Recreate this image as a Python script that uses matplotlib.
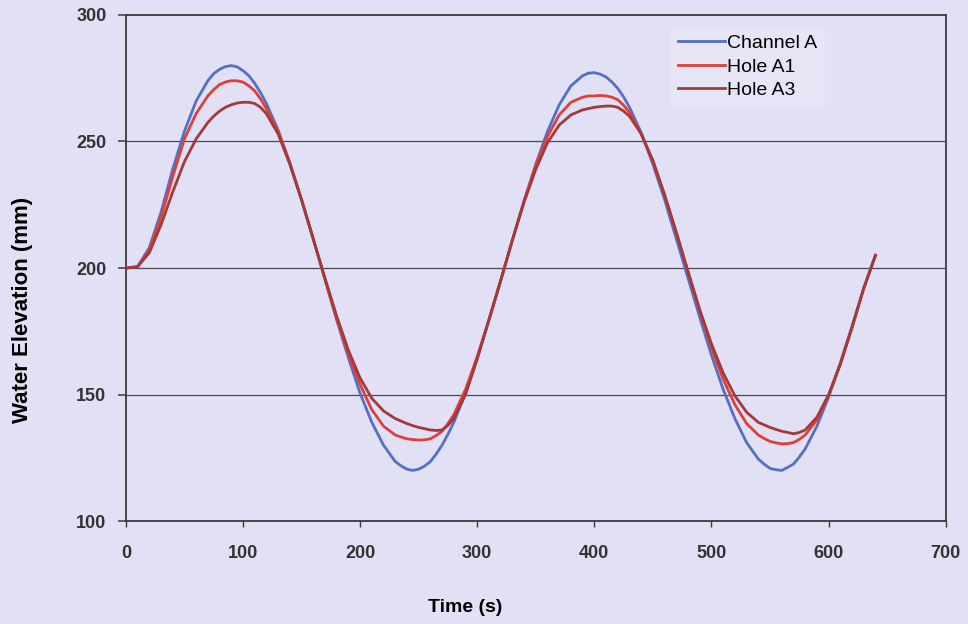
# Water elevation in channel and holes vs time
import matplotlib.pyplot as plt

plt.rcParams['font.family'] = ['Liberation Sans', 'DejaVu Sans']

# Data (10 s steps, 5 s near the crests and troughs)
time_s = [0, 10, 20, 30, 40, 50, 60, 70, 75, 80, 85, 90, 95, 100, 105, 110, 115,
          120, 130, 140, 150, 160, 170, 180, 190, 200, 210, 220, 230, 235, 240,
          245, 250, 255, 260, 265, 270, 275, 280, 290, 300, 310, 320, 330, 340,
          350, 360, 370, 380, 390, 395, 400, 405, 410, 415, 420, 425, 430, 440,
          450, 460, 470, 480, 490, 500, 510, 520, 530, 540, 545, 550, 555, 560,
          565, 570, 575, 580, 590, 600, 610, 620, 630, 640]

channel_a = [200, 200.5, 208, 222, 239, 254, 266, 274, 276.8, 278.5, 279.6, 280, 279.5, 278, 276, 273, 269.3,
             265, 254.5, 241.5, 227, 211.5, 195.5, 179.5, 164.5, 150.5, 139, 130, 123.5, 121.8, 120.5,
             120, 120.5, 121.7, 123.5, 126.5, 130, 134.3, 139, 150.5, 164.5, 179.5, 195, 211, 226.5,
             241, 254, 264.5, 272, 276, 277, 277.2, 276.6, 275.5, 273.5, 271, 267.6, 263.5, 253.5,
             241, 227, 211.5, 196, 180.5, 165.5, 152, 140.5, 131, 124.5, 122.5, 120.8, 120.3, 120,
             121.2, 122.5, 125.3, 128.5, 137.5, 149, 162.5, 177, 192, 205]

hole_a1 = [200, 200.5, 207, 220, 236, 251, 261, 268, 270.5, 272.5, 273.5, 274, 274, 273.5, 272, 270, 266.8,
           263, 254, 241.5, 227, 211.5, 195.5, 180, 166, 154, 144, 137.5, 134, 133.2, 132.5,
           132.2, 132, 132.1, 132.5, 133.8, 135.5, 138.5, 142, 152, 165, 179.5, 195, 211, 226.5,
           240.5, 252, 260.5, 265.5, 267.5, 268, 268, 268.2, 268, 267.5, 266.5, 264.3, 261.5, 253,
           242, 228.5, 214, 198.5, 183, 168.5, 156, 146, 138.5, 134, 132.6, 131.5, 130.9, 130.5,
           130.6, 131, 132.3, 134, 140, 149.5, 162, 176.5, 192, 205]

hole_a3 = [200, 200.5, 206, 217, 230, 242, 251, 257.5, 260, 262, 263.5, 264.5, 265.2, 265.5, 265.5, 265, 263.5,
           261, 253, 241, 227, 211.5, 196, 181, 167.5, 156.5, 148.5, 143.5, 140.5, 139.5, 138.5,
           137.7, 137, 136.5, 136, 135.8, 136, 137.8, 140.5, 150, 164, 179.5, 195, 211, 226,
           239, 249.5, 256.5, 260.5, 262.5, 263, 263.5, 263.8, 264, 264, 263.5, 262, 260, 253,
           242.5, 229, 214, 198.5, 183.5, 170, 158.5, 149.5, 143, 139, 138, 137, 136.2, 135.5,
           135, 134.5, 135, 136, 141, 150, 162, 176.5, 192, 205]

y_ticks = [100, 150, 200, 250, 300]
x_ticks = [0, 100, 200, 300, 400, 500, 600, 700]

bg = '#E2E0F4'
fig = plt.figure(figsize=(9.68, 6.24), dpi=100, facecolor=bg)
ax = fig.add_axes([0.130, 0.165, 0.847, 0.811], facecolor=bg)

ax.plot(time_s, channel_a, color='#5470C0', lw=2.0, label='Channel A', zorder=3)
ax.plot(time_s, hole_a1, color='#DE3F3A', lw=2.0, label='Hole A1', zorder=4)
ax.plot(time_s, hole_a3, color='#A13A3C', lw=2.0, label='Hole A3', zorder=5)

ax.set_xlim(0, 700)
ax.set_ylim(100, 300)
ax.set_xticks(x_ticks)
ax.set_yticks(y_ticks)
for yv in [150, 200, 250]:
    ax.axhline(yv, color='#4A4A50', lw=0.9, zorder=1)

for s in ax.spines.values():
    s.set_color('#3A3A3A')
    s.set_linewidth(1.3)

ax.tick_params(axis='y', direction='out', length=6, width=1.1, color='#3A3A3A',
               pad=8, labelsize=13, labelcolor='#333333')
ax.tick_params(axis='x', direction='out', length=4, width=1.0, color='#3A3A3A',
               pad=13, labelsize=13, labelcolor='#333333')
for lbl in ax.get_xticklabels() + ax.get_yticklabels():
    lbl.set_fontweight('bold')

ax.set_ylabel('Water Elevation (mm)', fontsize=16, fontweight='bold')
ax.yaxis.set_label_coords(-0.113, 0.417)
fig.text(465 / 968, 1 - 607 / 624, 'Time (s)', fontsize=14, fontweight='bold',
         ha='center', va='center')

leg = ax.legend(loc='upper left', bbox_to_anchor=(0.652, 0.996), fontsize=14,
                frameon=True, handlelength=2.4, handletextpad=0.15,
                labelspacing=0.3, borderpad=0.4)
leg.get_frame().set_facecolor('#E6E5F6')
leg.get_frame().set_edgecolor('none')
leg.get_frame().set_alpha(1)

fig.savefig('out.png', dpi=100, facecolor=bg)
